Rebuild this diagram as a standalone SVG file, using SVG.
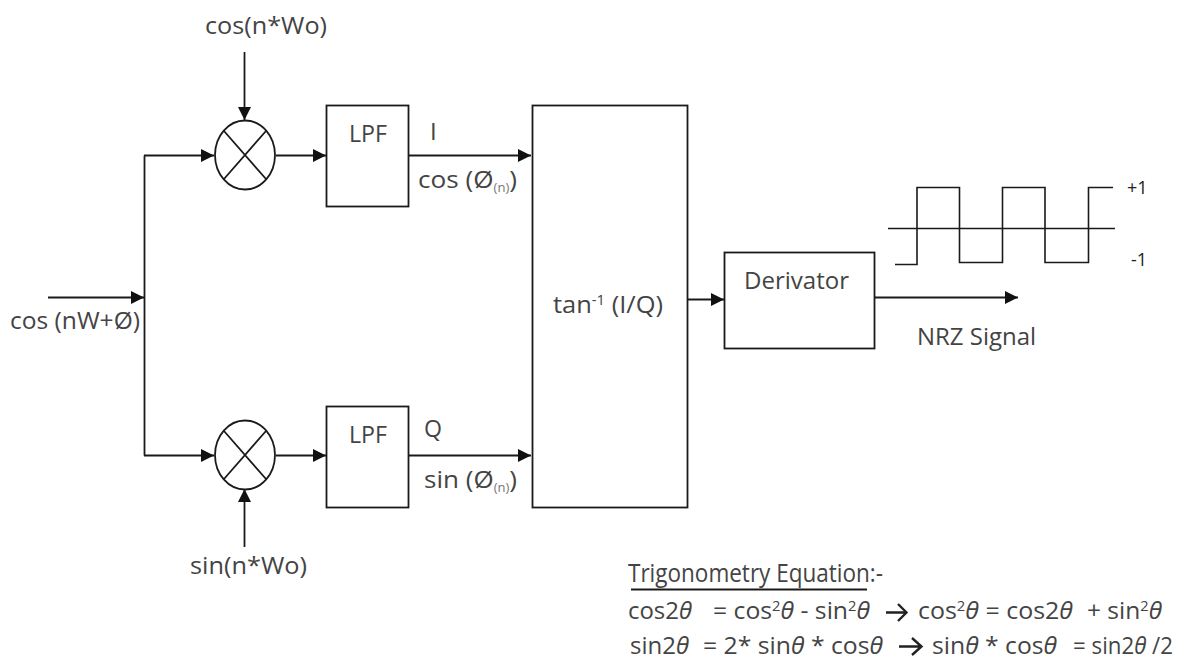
<svg xmlns="http://www.w3.org/2000/svg" width="1189" height="659" viewBox="0 0 1189 659">
<style>
.s{fill:none;stroke:#1a1a1a;stroke-width:1.8}
.b{fill:#fff;stroke:#1a1a1a;stroke-width:1.8}
.w{fill:none;stroke:#1a1a1a;stroke-width:1.6}
.k{fill:none;stroke:#222;stroke-width:2.4}
text{font-family:"Open Sans","Noto Sans","DejaVu Sans",sans-serif;fill:#444;font-size:24px}
.e{font-size:23.500px}
.i{font-style:italic}
.u{font-size:14px}
.d{font-size:12px;fill:#777}
</style>
<defs><marker id="a" markerUnits="userSpaceOnUse" markerWidth="14" markerHeight="14" refX="13" refY="7" orient="auto"><path d="M0 0.500L13 7L0 13.500Z" fill="#111"/></marker></defs>
<rect width="1189" height="659" fill="#fff"/>
<g id="connectors">
<path class="s" d="M48 297.500H144" marker-end="url(#a)"/>
<path class="s" d="M144.500 155.500V455.500"/>
<path class="s" d="M144 155.500H214" marker-end="url(#a)"/>
<path class="s" d="M144 455.500H214" marker-end="url(#a)"/>
<path class="s" d="M244.500 52V120" marker-end="url(#a)"/>
<path class="s" d="M244.500 547V489" marker-end="url(#a)"/>
<path class="s" d="M276 155.500H326" marker-end="url(#a)"/>
<path class="s" d="M276 455.500H326" marker-end="url(#a)"/>
<path class="s" d="M409 155.500H531" marker-end="url(#a)"/>
<path class="s" d="M409 455.500H531" marker-end="url(#a)"/>
<path class="s" d="M688 299.500H724" marker-end="url(#a)"/>
<path class="s" d="M875 297.500H1018" marker-end="url(#a)"/>
</g>
<g id="mixer-top"><ellipse class="b" cx="245" cy="155" rx="30" ry="34.500"/><path class="s" d="M224 131L266 179M266 131L224 179"/></g>
<g id="mixer-bottom"><ellipse class="b" cx="245" cy="455" rx="30" ry="34.500"/><path class="s" d="M224 431L266 479M266 431L224 479"/></g>
<g id="lpf-top"><rect class="b" x="326.500" y="105.500" width="82" height="101"/><text x="349" y="142" textLength="38" lengthAdjust="spacingAndGlyphs">LPF</text></g>
<g id="lpf-bottom"><rect class="b" x="326.500" y="406.500" width="82" height="101"/><text x="349" y="443" textLength="38" lengthAdjust="spacingAndGlyphs">LPF</text></g>
<g id="atan"><rect class="b" x="532.500" y="105.500" width="155" height="402"/><text x="553" y="313" textLength="110" lengthAdjust="spacingAndGlyphs">tan<tspan class="u" dy="-8">-1</tspan><tspan dy="8"> (I/Q)</tspan></text></g>
<g id="derivator"><rect class="b" x="724.500" y="252.500" width="150" height="96"/><text x="744" y="289" textLength="105" lengthAdjust="spacingAndGlyphs">Derivator</text></g>
<g id="signal"><path class="w" d="M895 264.500H917V187.500H959.500V262.500H1002.500V187.500H1045V262.500H1088.500V187.500H1113"/><path class="w" d="M888 228.500H1115"/></g>
<g id="labels">
<text x="205" y="34" textLength="122" lengthAdjust="spacingAndGlyphs">cos(n*Wo)</text>
<text x="190" y="574" textLength="117" lengthAdjust="spacingAndGlyphs">sin(n*Wo)</text>
<text x="10" y="329" textLength="130" lengthAdjust="spacingAndGlyphs">cos (nW+Ø)</text>
<text x="430" y="140">I</text>
<text x="418" y="188" textLength="99" lengthAdjust="spacingAndGlyphs">cos (Ø<tspan class="d" dy="4">(n)</tspan><tspan dy="-4">)</tspan></text>
<text x="424" y="437" textLength="18" lengthAdjust="spacingAndGlyphs">Q</text>
<text x="424" y="488" textLength="93" lengthAdjust="spacingAndGlyphs">sin (Ø<tspan class="d" dy="4">(n)</tspan><tspan dy="-4">)</tspan></text>
<text x="1127" y="194" style="font-size:18px;fill:#222">+1</text>
<text x="1131" y="266" style="font-size:18px;fill:#222">-1</text>
<text x="917" y="345" textLength="119" lengthAdjust="spacingAndGlyphs">NRZ Signal</text>
</g>
<g id="equations">
<text x="628" y="582" style="font-size:25px" textLength="255" lengthAdjust="spacingAndGlyphs">Trigonometry Equation:-</text>
<path class="s" d="M631 589.500H867"/>
<text class="e" x="628" y="619" textLength="64" lengthAdjust="spacingAndGlyphs">cos2<tspan class="i">θ</tspan></text>
<text class="e" x="713" y="619" textLength="157" lengthAdjust="spacingAndGlyphs">= cos<tspan class="u" dy="-8">2</tspan><tspan class="i" dy="8">θ</tspan> - sin<tspan class="u" dy="-8">2</tspan><tspan class="i" dy="8">θ</tspan></text>
<path class="k" d="M886 612.500H906M898 604L906.500 612.500L898 621"/>
<text class="e" x="918" y="619" textLength="155" lengthAdjust="spacingAndGlyphs">cos<tspan class="u" dy="-8">2</tspan><tspan class="i" dy="8">θ</tspan> = cos2<tspan class="i">θ</tspan></text>
<text class="e" x="1087" y="619" textLength="75" lengthAdjust="spacingAndGlyphs">+ sin<tspan class="u" dy="-8">2</tspan><tspan class="i" dy="8">θ</tspan></text>
<text class="e" x="630" y="654" textLength="59" lengthAdjust="spacingAndGlyphs">sin2<tspan class="i">θ</tspan></text>
<text class="e" x="703" y="654" textLength="180" lengthAdjust="spacingAndGlyphs">= 2* sin<tspan class="i">θ</tspan> * cos<tspan class="i">θ</tspan></text>
<path class="k" d="M899 646.500H921M912 638L921.500 646.500L912 655"/>
<text class="e" x="932" y="654" textLength="125" lengthAdjust="spacingAndGlyphs">sin<tspan class="i">θ</tspan> * cos<tspan class="i">θ</tspan></text>
<text class="e" x="1073" y="654" textLength="100" lengthAdjust="spacingAndGlyphs">= sin2<tspan class="i">θ</tspan> /2</text>
</g>
</svg>
